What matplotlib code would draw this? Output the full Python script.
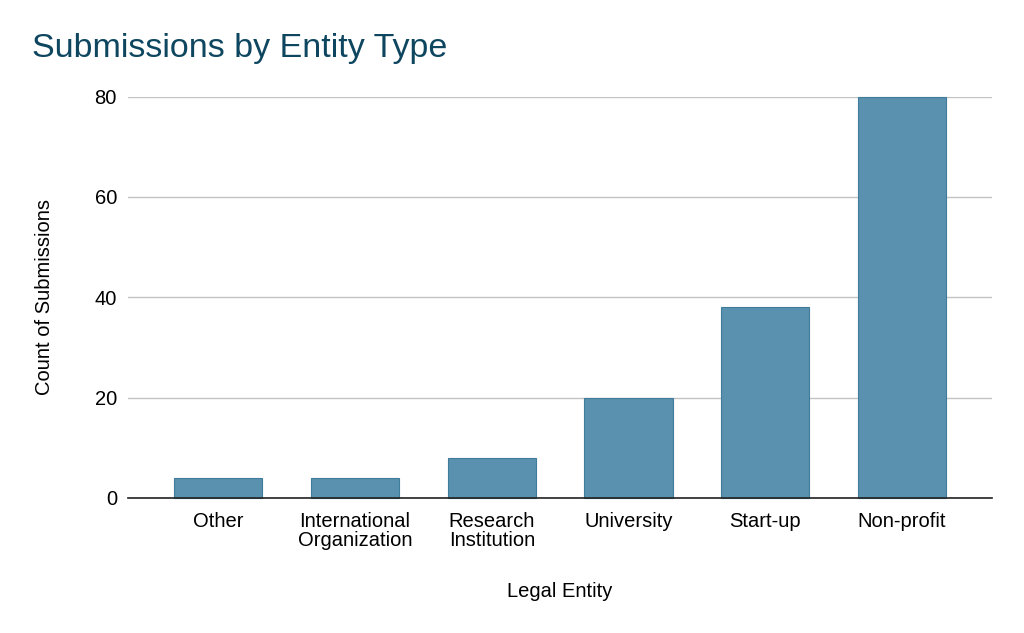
import matplotlib
matplotlib.use("Agg")
import matplotlib.pyplot as plt
import numpy as np

# data
categories = ["Other", "International\nOrganization", "Research\nInstitution",
              "University", "Start-up", "Non-profit"]
counts = [4, 4, 8, 20, 38, 80]
y_ticks = [0, 20, 40, 60, 80]

plt.rcParams['font.family'] = ['Liberation Sans', 'DejaVu Sans']
fs = 14.5

fig = plt.figure(figsize=(10.24, 6.33), dpi=100)
ax = fig.add_axes([0.125, 0.2133, 0.844, 0.634])

x = np.arange(len(categories))
ax.bar(x, counts, width=0.645, color="#5a91ae", edgecolor="#3f7c9c",
       linewidth=0.8, zorder=3, clip_on=False)

ax.set_xlim(-0.66, 5.66)
ax.set_ylim(0, 80)
ax.set_yticks(y_ticks)
ax.set_xticks(x)
ax.set_xticklabels(categories, fontsize=fs, linespacing=1.0)
ax.tick_params(axis='y', labelsize=fs, length=0, pad=8)
ax.tick_params(axis='x', length=0, pad=10)

ax.grid(axis='y', color="#c3c3c3", linewidth=1, zorder=0)
for side in ['top', 'right', 'left']:
    ax.spines[side].set_visible(False)
ax.spines['bottom'].set_color("#222222")
ax.spines['bottom'].set_linewidth(1.2)
ax.spines['bottom'].set_zorder(4)

ax.set_xlabel("Legal Entity", fontsize=fs, labelpad=23)
ax.set_ylabel("Count of Submissions", fontsize=fs, labelpad=29)

fig.text(32 / 1024, 1 - 49 / 633, "Submissions by Entity Type", fontsize=24.5,
         color="#0e4660", va='center', ha='left')

fig.savefig("out.png", dpi=100)
